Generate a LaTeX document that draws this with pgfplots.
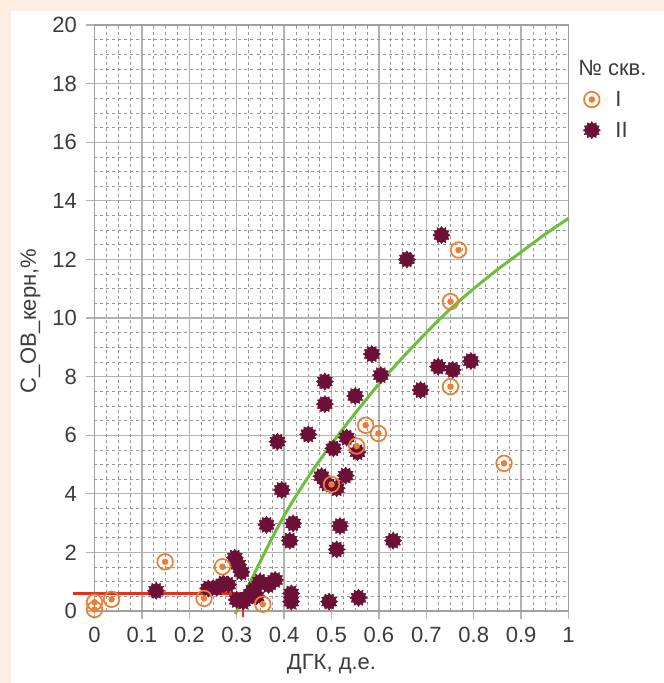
\documentclass[border=0pt]{standalone}
\usepackage{pgfplots}
\pgfplotsset{compat=1.18}
\usepackage{fontspec}
\setmainfont{Liberation Sans}
\usetikzlibrary{plotmarks}
\definecolor{peach}{RGB}{253,237,225}
\definecolor{ringorange}{RGB}{238,125,49}
\definecolor{maroon}{RGB}{108,16,56}
\definecolor{fitgreen}{RGB}{108,190,62}
\definecolor{cutred}{RGB}{228,48,30}
\definecolor{gridgray}{RGB}{178,178,178}
\definecolor{txtgray}{RGB}{60,60,60}

% ring with dot (well I)
\pgfdeclareplotmark{ringdot}{%
  \pgfpathcircle{\pgfpointorigin}{\pgfplotmarksize}%
  \pgfusepathqstroke
  \pgfpathcircle{\pgfpointorigin}{0.42\pgfplotmarksize}%
  \pgfusepathqfill}
% toothed disc (well II)
\newcommand\gO[1]{\pgfpathlineto{\pgfqpointpolar{#1}{\pgfplotmarksize}}}
\newcommand\gI[1]{\pgfpathlineto{\pgfqpointpolar{#1}{0.74\pgfplotmarksize}}}
\pgfdeclareplotmark{gear}{%
  \pgfpathmoveto{\pgfqpointpolar{0}{\pgfplotmarksize}}%
  \gI{15}\gO{30}\gI{45}\gO{60}\gI{75}\gO{90}\gI{105}\gO{120}\gI{135}\gO{150}\gI{165}%
  \gO{180}\gI{195}\gO{210}\gI{225}\gO{240}\gI{255}\gO{270}\gI{285}\gO{300}\gI{315}\gO{330}\gI{345}%
  \pgfpathclose\pgfusepathqfillstroke}

\begin{document}
\begin{tikzpicture}
\fill[peach] (-94.5pt,-72pt) rectangle (569.5pt,611pt);
\fill[white] (-83.5pt,-72pt) rectangle (569.5pt,600pt);
\begin{axis}[
    at={(0pt,0pt)}, anchor=south west,
    scale only axis, width=474pt, height=586pt,
    xmin=0, xmax=1, ymin=0, ymax=20,
    clip=false,
    xtick={0,0.1,0.2,0.3,0.4,0.5,0.6,0.7,0.8,0.9,1},
    ytick={0,2,4,6,8,10,12,14,16,18,20},
    minor x tick num=3, minor y tick num=3,
    grid=both,
    major grid style={gridgray, line width=1.3pt},
    minor grid style={gridgray!85!black, dashed, line width=0.6pt},
    axis line style={gridgray!90!black, line width=1.8pt},
    xtick pos=bottom, ytick pos=left,
    tick align=outside, major tick length=8pt, minor tick length=0pt,
    major tick style={gridgray, line width=1.3pt},
    /pgf/number format/assume math mode=true,
    /pgf/number format/.cd, fixed, precision=1, /pgfplots/.cd,
    tick label style={font=\fontsize{22}{24}\selectfont, text=txtgray},
    yticklabel style={xshift=-6pt},
    xticklabel style={yshift=-5pt},
    every axis x label/.style={at={(axis description cs:0.5,0)}, yshift=-53pt, anchor=center},
    every axis y label/.style={at={(axis description cs:0,0.495)}, xshift=-64pt, rotate=90, anchor=center},
    label style={font=\fontsize{22}{24}\selectfont, text=txtgray},
    xlabel={ДГК, д.е.},
    ylabel={С\_ОВ\_керн,\%},
    legend style={at={(rel axis cs:1.0306,0.943)}, anchor=north west, draw=none, fill=none,
      font=\fontsize{22}{24}\selectfont, text=txtgray, row sep=10pt, inner sep=0pt},
    legend cell align=left,
]
\addlegendimage{empty legend}
\addlegendentry{\hspace*{-24pt}№ скв.}
\addlegendimage{only marks, mark=ringdot, mark size=7.8pt, mark options={draw=ringorange, fill=ringorange, line width=1.7pt}}
\addlegendentry{\hspace*{13pt}I}

% well II
\addplot[only marks, mark=gear, mark size=8.6pt, mark options={draw=maroon, fill=maroon, line width=0.5pt}] coordinates {
 (0.732,12.83) (0.659,12.0) (0.585,8.77) (0.604,8.05) (0.55,7.34) (0.725,8.34)
 (0.756,8.23) (0.794,8.53) (0.688,7.54) (0.486,7.83) (0.486,7.06) (0.451,6.03)
 (0.386,5.78) (0.532,5.92) (0.504,5.55) (0.555,5.42) (0.53,4.62) (0.479,4.6)
 (0.511,4.19) (0.49,4.35) (0.395,4.13) (0.363,2.94) (0.419,2.99) (0.412,2.4)
 (0.518,2.9) (0.511,2.1) (0.63,2.4) (0.296,1.82) (0.303,1.58) (0.31,1.33)
 (0.13,0.69) (0.24,0.77) (0.258,0.8) (0.272,0.94) (0.282,0.9) (0.3,0.38)
 (0.314,0.32) (0.324,0.49) (0.335,0.72) (0.342,0.5) (0.349,1.0) (0.367,0.89)
 (0.381,1.06) (0.415,0.6) (0.415,0.32) (0.495,0.32) (0.557,0.45)
};
\addlegendentry{\hspace*{13pt}II}

% well I
\addplot[only marks, mark=ringdot, mark size=7.8pt, mark options={draw=ringorange, fill=ringorange, line width=1.7pt}, forget plot] coordinates {
 (0,0.3) (0,0.05) (0.036,0.4) (0.149,1.68) (0.231,0.43) (0.27,1.51) (0.355,0.23)
 (0.5,4.32) (0.553,5.63) (0.572,6.34) (0.599,6.06) (0.864,5.04) (0.751,7.66)
 (0.751,10.56) (0.768,12.32)
};

% trend
\addplot[fitgreen, line width=3pt, smooth, forget plot] coordinates {
 (0.297,-0.1) (0.35,1.7) (0.40,3.25) (0.45,4.55) (0.50,5.7) (0.55,6.75)
 (0.60,7.75) (0.65,8.65) (0.70,9.5) (0.75,10.3) (0.80,11.0) (0.85,11.65)
 (0.90,12.25) (0.95,12.85) (1.0,13.4)
};
% cutoff
\addplot[cutred, line width=2.2pt, forget plot] coordinates {(-0.045,0.6) (0.313,0.6) (0.313,-0.22)};
\end{axis}
\pgfresetboundingbox
\path[use as bounding box] (-94.5pt,-72pt) rectangle (569.5pt,611pt);
\end{tikzpicture}
\end{document}
